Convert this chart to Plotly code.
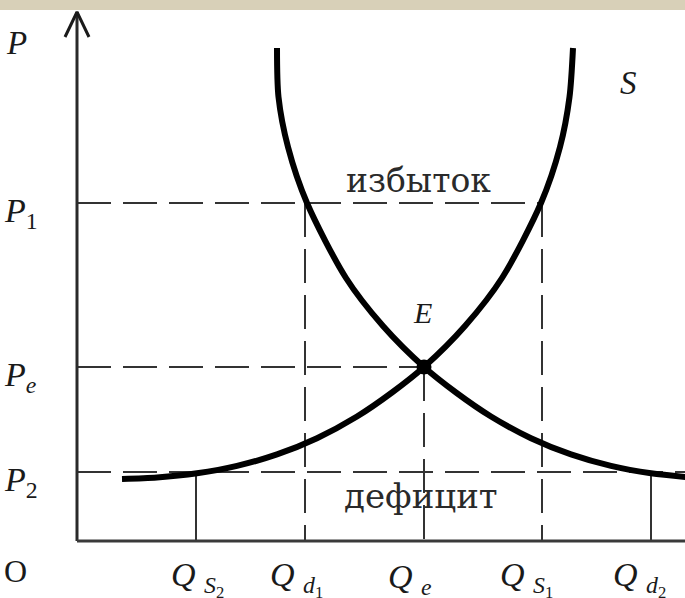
import plotly.graph_objects as go

# ---------------- data (economic units) ----------------
Q_LABELS = ["Qs2", "Qd1", "Qe", "Qs1", "Qd2"]
Q_VALUES = [11.9, 22.8, 34.7, 46.5, 57.4]
P_LABELS = ["P1", "Pe", "P2"]
P_VALUES = [33.8, 17.4, 6.9]

# supply curve S
SUPPLY_Q = [4.5, 8.0, 12.0, 16.0, 20.0, 24.0, 28.0, 31.5, 34.7, 38.8, 42.5, 46.4, 48.3, 49.25, 49.6]
SUPPLY_P = [6.2, 6.35, 6.77, 7.51, 8.66, 10.28, 12.45, 14.85, 17.4, 21.5, 26.3, 33.8, 39.4, 44.4, 49.3]

# demand curve D
DEMAND_Q = [20.0, 20.15, 21.1, 23.0, 26.9, 30.6, 34.7, 37.9, 41.4, 45.4, 49.4, 53.4, 57.4, 61.4]
DEMAND_P = [49.3, 44.4, 39.4, 33.8, 26.3, 21.5, 17.4, 14.85, 12.45, 10.28, 8.66, 7.51, 6.77, 6.35]

# equilibrium
EQ_Q, EQ_P = 34.7, 17.4

X_RANGE = [-7.7, 60.8]
Y_RANGE = [-5.7, 54.1]
P_AXIS_TOP = 52.9

Qs2, Qd1, Qe, Qs1, Qd2 = Q_VALUES
P1, Pe, P2 = P_VALUES

SERIF = "Liberation Serif"
WORD_FONT = "DejaVu Serif"
DASH_COLOR = "#333333"
DASH = "34px,12px"

fig = go.Figure()


def seg(xs, ys, dash=None, color=DASH_COLOR, width=2):
    fig.add_trace(go.Scatter(x=xs, y=ys, mode="lines", hoverinfo="skip",
                             line=dict(color=color, width=width, dash=dash)))


# dashed guide lines
seg([0, Qs1], [P1, P1], DASH)
seg([0, Qe], [Pe, Pe], DASH)
seg([0, X_RANGE[1]], [P2, P2], DASH)
seg([Qd1, Qd1], [P1, 0], DASH)
seg([Qe, Qe], [Pe, 0], DASH)
seg([Qs1, Qs1], [P1, 0], DASH)
# solid short verticals
seg([Qs2, Qs2], [P2, 0])
seg([Qd2, Qd2], [P2, 0])

# axes
seg([0, 0], [0, P_AXIS_TOP], color="#2a2a2a", width=3)
seg([0, X_RANGE[1]], [0, 0], color="#3a3a3a", width=3)
# arrow head on P axis
seg([-1.2, 0, 1.2], [P_AXIS_TOP - 2.5, P_AXIS_TOP, P_AXIS_TOP - 2.5], color="#1a1a1a", width=3)

# curves
fig.add_trace(go.Scatter(x=DEMAND_Q, y=DEMAND_P, mode="lines", hoverinfo="skip",
                         line=dict(color="black", width=6, shape="spline", smoothing=0.8)))
fig.add_trace(go.Scatter(x=SUPPLY_Q, y=SUPPLY_P, mode="lines", hoverinfo="skip",
                         line=dict(color="black", width=6, shape="spline", smoothing=0.8)))
# equilibrium point
fig.add_trace(go.Scatter(x=[EQ_Q], y=[EQ_P], mode="markers", hoverinfo="skip",
                         marker=dict(color="black", size=15)))


def label(text, x, y, size=32, family=SERIF, xanchor="center", yanchor="middle",
          xshift=0, yshift=0, color="#1a1a1a"):
    fig.add_annotation(x=x, y=y, xref="x", yref="y", text=text, showarrow=False,
                       xanchor=xanchor, yanchor=yanchor, xshift=xshift, yshift=yshift,
                       font=dict(family=family, size=size, color=color))


# P axis labels
label("<i>P</i>", X_RANGE[0], P_AXIS_TOP, size=33, xanchor="left", xshift=4, yshift=-31)
label("<i>P</i><sub>1</sub>", X_RANGE[0], P1, size=34, xanchor="left", xshift=2, yshift=-10)
label("<i>P</i><sub><i>e</i></sub>", X_RANGE[0], Pe, size=34, xanchor="left", xshift=2, yshift=-10)
label("<i>P</i><sub>2</sub>", X_RANGE[0], P2, size=34, xanchor="left", xshift=2, yshift=-10)
label("O", X_RANGE[0], 0, size=32, xanchor="left", xshift=2, yshift=-30)

# Q axis labels
q_texts = ["<i>Q</i>&nbsp;<sub><i>S</i><sub>2</sub></sub>",
           "<i>Q</i>&nbsp;<sub><i>d</i><sub>1</sub></sub>",
           "<i>Q</i>&nbsp;<sub><i>e</i></sub>",
           "<i>Q</i>&nbsp;<sub><i>S</i><sub>1</sub></sub>",
           "<i>Q</i>&nbsp;<sub><i>d</i><sub>2</sub></sub>"]
q_offsets = [-25, -35, -36, -42, -38]
for t, q, off in zip(q_texts, Q_VALUES, q_offsets):
    label(t, q, 0, size=34, xanchor="left", xshift=off - 2, yshift=-38)

label("<i>S</i>", 55.1, 45.8, size=33)
label("<i>E</i>", 34.5, 22.9, size=30)
label("избыток", 34.1, 36.1, size=33, family=WORD_FONT, color="#2a2a2a")
label("дефицит", 34.4, 4.5, size=34, family=WORD_FONT, color="#2a2a2a")

# top beige band
fig.add_shape(type="rect", xref="paper", yref="paper", x0=0, x1=1, y0=1 - 10 / 598, y1=1,
              fillcolor="#d8d0b8", line=dict(width=0), layer="above")

fig.update_layout(
    width=685, height=598,
    margin=dict(l=0, r=0, t=0, b=0),
    paper_bgcolor="white", plot_bgcolor="white",
    showlegend=False,
    xaxis=dict(range=X_RANGE, visible=False, fixedrange=True),
    yaxis=dict(range=Y_RANGE, visible=False, fixedrange=True),
)

fig.write_html("out.html", config={"displayModeBar": False},
               post_script="document.body.style.margin='0';document.body.style.overflow='hidden';")
